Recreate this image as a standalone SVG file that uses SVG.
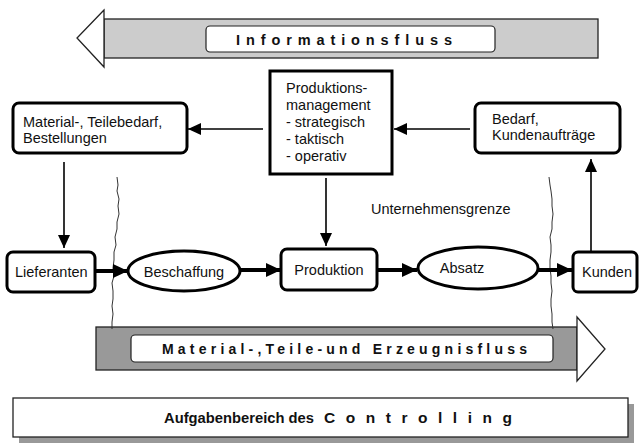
<svg xmlns="http://www.w3.org/2000/svg" width="643" height="446" viewBox="0 0 643 446">
<style>
.t{font-family:"Liberation Sans",Arial,sans-serif;font-size:14.5px;fill:#111}
.b{font-family:"Liberation Sans",Arial,sans-serif;font-weight:bold;fill:#111}
.box{fill:#fff;stroke:#000;stroke-width:3}
.thin{stroke:#000;stroke-width:1.6;fill:none}
.thick{stroke:#000;stroke-width:4;fill:none}
.wave{stroke:#333;stroke-width:1;fill:none}
</style>
<defs>
<marker id="ah" markerUnits="userSpaceOnUse" markerWidth="14" markerHeight="12" refX="13" refY="6" orient="auto"><path d="M0,0 L13,6 L0,12 z" fill="#000"/></marker>
<marker id="ahb" markerUnits="userSpaceOnUse" markerWidth="16" markerHeight="14" refX="15" refY="7" orient="auto"><path d="M0,0 L15,7 L0,14 z" fill="#000"/></marker>
</defs>
<rect width="643" height="446" fill="#fff"/>

<g id="info-flow">
<rect x="104" y="19" width="494" height="39" fill="#ccc" stroke="#222" stroke-width="1.3"/>
<polygon points="104,10 77,38 104,67" fill="#fff" stroke="#222" stroke-width="1.3"/>
<rect x="206" y="26" width="289" height="26" rx="4" fill="#fff" stroke="#222" stroke-width="1.2"/>
<text class="b" x="236" y="45" font-size="14.5" textLength="216" lengthAdjust="spacing">Informationsfluss</text>
</g>

<g id="material-flow">
<rect x="96" y="327" width="481" height="43" fill="#999" stroke="#222" stroke-width="1.3"/>
<polygon points="577,317 605,349 577,381" fill="#fff" stroke="#222" stroke-width="1.3"/>
<rect x="131" y="335" width="422" height="27" rx="4" fill="#fff" stroke="#222" stroke-width="1.2"/>
<text class="b" x="162" y="354" font-size="14" textLength="365" lengthAdjust="spacing">Material-,Teile-und Erzeugnisfluss</text>
</g>

<g id="controlling">
<rect x="19" y="404" width="615" height="39" fill="#999"/>
<rect x="13" y="398" width="615" height="39" fill="#fff" stroke="#222" stroke-width="1.3"/>
<text class="b" x="164" y="423" font-size="15.5"><tspan textLength="150" lengthAdjust="spacingAndGlyphs">Aufgabenbereich des</tspan><tspan x="324" textLength="188" lengthAdjust="spacing">Controlling</tspan></text>
</g>

<g id="borders">
<path class="wave" d="M117,177 l1,8 l-1,6 l2,8 l-1,7 l1,8 l-2,8 l0,7 l-2,8 l1,8 l-2,7 l0,8 l-1,8 l1,8 l-2,7 l1,8 l0,8 l-1,7 l1,8 l-1,8 l0,7"/>
<path class="wave" d="M549,177 l1,8 l1,6 l1,8 l0,7 l1,8 l-1,8 l0,7 l-2,8 l1,8 l0,7 l-1,8 l0,8 l1,8 l0,7 l1,8 l-1,8 l0,7 l1,8 l0,8 l1,7"/>
<text class="t" x="371" y="214" font-size="14">Unternehmensgrenze</text>
</g>

<g id="connectors">
<line class="thin" x1="263" y1="129" x2="188" y2="129" marker-end="url(#ah)"/>
<line class="thin" x1="470" y1="129" x2="394" y2="129" marker-end="url(#ah)"/>
<line class="thin" x1="64" y1="162" x2="64" y2="248" marker-end="url(#ah)"/>
<line class="thin" x1="326" y1="178" x2="326" y2="246" marker-end="url(#ah)"/>
<line class="thin" x1="591" y1="252" x2="591" y2="159" marker-end="url(#ah)"/>
<line class="thick" x1="95" y1="271" x2="128" y2="271" marker-end="url(#ahb)"/>
<line class="thick" x1="240" y1="270" x2="281" y2="270" marker-end="url(#ahb)"/>
<line class="thick" x1="377" y1="270" x2="417" y2="270" marker-end="url(#ahb)"/>
<line class="thick" x1="538" y1="270" x2="572" y2="270" marker-end="url(#ahb)"/>
</g>

<g id="produktionsmanagement">
<rect x="270" y="71" width="122" height="103" fill="#fff" stroke="#000" stroke-width="3"/>
<text class="t"><tspan x="286" y="93">Produktions-</tspan><tspan x="286" y="110">management</tspan><tspan x="286" y="127">- strategisch</tspan><tspan x="286" y="144">- taktisch</tspan><tspan x="286" y="161">- operativ</tspan></text>
</g>

<g id="teilebedarf">
<rect class="box" x="13" y="103" width="174" height="50" rx="6"/>
<text class="t"><tspan x="23" y="127">Material-, Teilebedarf,</tspan><tspan x="23" y="143">Bestellungen</tspan></text>
</g>

<g id="bedarf">
<rect class="box" x="475" y="103" width="145" height="50" rx="6"/>
<text class="t"><tspan x="492" y="124">Bedarf,</tspan><tspan x="492" y="140">Kundenaufträge</tspan></text>
</g>

<g id="lieferanten">
<rect class="box" x="7" y="252" width="88" height="40" rx="6"/>
<text class="t" x="15" y="277">Lieferanten</text>
</g>

<g id="beschaffung">
<ellipse cx="184" cy="271" rx="56" ry="20" fill="#fff" stroke="#000" stroke-width="3"/>
<text class="t" x="184" y="277" text-anchor="middle">Beschaffung</text>
</g>

<g id="produktion">
<rect class="box" x="281" y="249" width="96" height="41" rx="6"/>
<text class="t" x="329" y="275" text-anchor="middle">Produktion</text>
</g>

<g id="absatz">
<ellipse cx="478" cy="268" rx="60" ry="21" fill="#fff" stroke="#000" stroke-width="3"/>
<text class="t" x="462" y="273" text-anchor="middle">Absatz</text>
</g>

<g id="kunden">
<rect class="box" x="573" y="252" width="64" height="40" rx="5"/>
<text class="t" x="582" y="277">Kunden</text>
</g>
</svg>
